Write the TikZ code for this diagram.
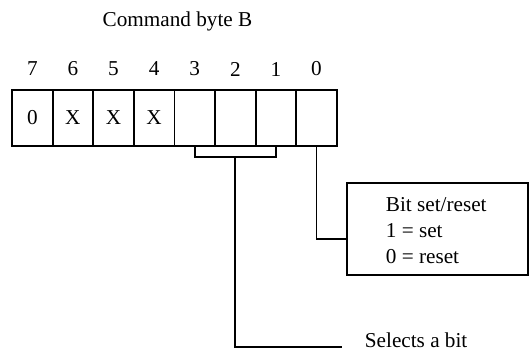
\documentclass[tikz,border=0pt]{standalone}
\usepackage{fontspec}
\setmainfont{Liberation Serif}
\usetikzlibrary{positioning}

\begin{document}
\begin{tikzpicture}[
    x=0.5pt, y=-0.5pt,
    font=\fontsize{10.6}{12}\selectfont,
    line width=0.9pt,
    cell/.style={draw, minimum width=20.3pt, minimum height=28pt, inner sep=0pt},
    bitnum/.style={inner sep=0pt},
    setbox/.style={draw, minimum width=90.5pt, minimum height=46pt, inner sep=0pt},
    line/.style={line width=0.9pt}
]
\useasboundingbox (0,0) rectangle (529,350);

% Title
\node (title) at (177.5,21) {Command byte B};

% Bit cells 7..0 with bit numbers
\foreach \b/\t [count=\i from 0] in {7/0,6/X,5/X,4/X,3/,2/,1/,0/} {
    \node[cell] (b\b) at (32.3+40.6*\i,118) {\t};
    \node[bitnum] (n\b) at (32.3+40.6*\i,69) {\b};
}

% Bit set/reset box
\node[setbox] (sr) at (437.5,229) {};
\node[anchor=west, align=left, inner sep=0pt] (srtext) at (385,231)
    {Bit set/reset\\[1pt]1 = set\\[1pt]0 = reset};
\draw[line] (b0.south) |- ([yshift=-5pt]sr.west);

% Bit select bracket
\node[anchor=base west, inner xsep=11pt, inner ysep=0pt] (sel) at (342,347) {Selects a bit};
\draw[line] (b3.south) -- ++(0,10) coordinate (bl) -| (b1.south);
\draw[line] (bl -| b2.south) |- (sel.base west);

\end{tikzpicture}
\end{document}
